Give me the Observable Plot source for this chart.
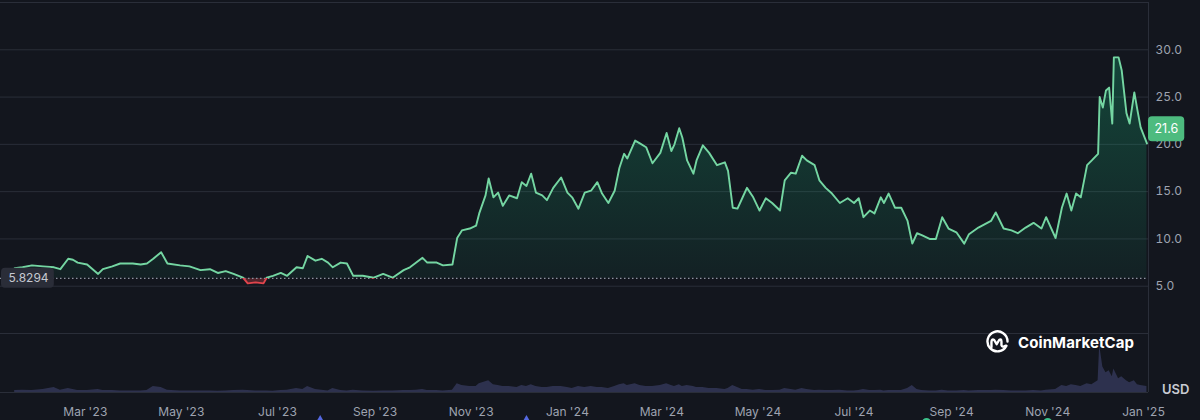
<!DOCTYPE html>
<html><head><meta charset="utf-8">
<script src="https://cdn.jsdelivr.net/npm/d3@7"></script>
<script src="https://cdn.jsdelivr.net/npm/@observablehq/plot@0.6"></script>
<style>
html,body{margin:0;padding:0;background:#13161e;}
#wrap{position:relative;width:1200px;height:420px;overflow:hidden;font-family:Inter,"Noto Sans",sans-serif;}
#wrap > svg{position:absolute;left:0;top:0;}
#logo{position:absolute;left:985px;top:330px;display:flex;align-items:center;gap:8px;}
#logo span{font:700 15px Inter,sans-serif;color:#ffffff;letter-spacing:0.1px;}
#usd{position:absolute;left:1162px;top:381px;font:600 13px Inter,sans-serif;color:#c8cbd3;}
</style></head><body><div id="wrap"></div>
<script>
// ---- data ----
const dates = [
"2023-01-15","2023-01-20","2023-01-26","2023-02-02","2023-02-09","2023-02-13","2023-02-18","2023-02-21","2023-02-24","2023-03-02",
"2023-03-09","2023-03-12","2023-03-18","2023-03-23","2023-03-31","2023-04-05","2023-04-09","2023-04-13","2023-04-18","2023-04-22",
"2023-04-30","2023-05-06","2023-05-13","2023-05-19","2023-05-24","2023-05-29","2023-06-03","2023-06-09","2023-06-12","2023-06-17",
"2023-06-22","2023-06-24","2023-06-28","2023-07-03","2023-07-07","2023-07-13","2023-07-17","2023-07-20","2023-07-25","2023-07-29",
"2023-08-02","2023-08-05","2023-08-10","2023-08-14","2023-08-18","2023-08-24","2023-08-31","2023-09-06","2023-09-12","2023-09-19",
"2023-09-23","2023-09-27","2023-10-01","2023-10-04","2023-10-10","2023-10-14","2023-10-20","2023-10-23","2023-10-26","2023-10-31",
"2023-11-04","2023-11-06","2023-11-10","2023-11-12","2023-11-15","2023-11-18","2023-11-21","2023-11-25","2023-11-30","2023-12-03",
"2023-12-06","2023-12-09","2023-12-12","2023-12-16","2023-12-19","2023-12-23","2023-12-28","2024-01-01","2024-01-04","2024-01-08",
"2024-01-12","2024-01-16","2024-01-20","2024-01-23","2024-01-27","2024-01-31","2024-02-03","2024-02-06","2024-02-08","2024-02-13",
"2024-02-16","2024-02-20","2024-02-24","2024-02-29","2024-03-04","2024-03-07","2024-03-09","2024-03-12","2024-03-14","2024-03-17",
"2024-03-21","2024-03-23","2024-03-27","2024-03-31","2024-04-05","2024-04-10","2024-04-12","2024-04-15","2024-04-18","2024-04-21",
"2024-04-24","2024-04-28","2024-05-02","2024-05-06","2024-05-10","2024-05-15","2024-05-18","2024-05-22","2024-05-25","2024-05-29",
"2024-06-01","2024-06-06","2024-06-09","2024-06-13","2024-06-17","2024-06-22","2024-06-27","2024-07-01","2024-07-04","2024-07-07",
"2024-07-11","2024-07-14","2024-07-18","2024-07-20","2024-07-23","2024-07-27","2024-07-31","2024-08-04","2024-08-07","2024-08-10",
"2024-08-13","2024-08-18","2024-08-22","2024-08-26","2024-08-30","2024-09-04","2024-09-09","2024-09-12","2024-09-18","2024-09-26",
"2024-09-29","2024-10-04","2024-10-09","2024-10-13","2024-10-18","2024-10-23","2024-10-28","2024-10-31","2024-11-06","2024-11-10",
"2024-11-13","2024-11-16","2024-11-19","2024-11-22","2024-11-26","2024-11-29","2024-12-03","2024-12-04","2024-12-06","2024-12-08",
"2024-12-10","2024-12-12","2024-12-13","2024-12-16","2024-12-18","2024-12-21","2024-12-23","2024-12-26","2024-12-28","2024-12-30",
"2025-01-03"];
const prices = [
6.9,7.0,7.2,7.1,7.0,6.8,7.9,7.8,7.5,7.3,
6.3,6.8,7.1,7.4,7.4,7.3,7.4,7.9,8.6,7.4,
7.2,7.1,6.7,6.8,6.4,6.6,6.3,5.9,5.3,5.4,
5.3,5.9,6.1,6.4,6.1,7.0,6.9,8.2,7.7,7.9,
7.5,7.0,7.5,7.4,6.1,6.1,5.9,6.3,5.9,6.7,
7.0,7.5,8.0,7.5,7.5,7.2,7.3,10.1,10.9,11.1,
11.4,12.7,14.6,16.4,14.4,14.9,13.5,14.6,14.3,16.0,
15.6,16.9,14.9,14.6,14.1,15.4,16.5,14.9,14.4,13.2,
14.9,15.1,16.0,14.8,13.8,15.1,17.5,19.0,18.5,20.4,
20.1,19.7,18.0,19.1,21.2,19.3,20.0,21.7,20.7,18.3,
16.9,18.3,19.9,19.1,17.8,18.1,17.2,13.3,13.2,14.3,
15.4,14.4,13.0,14.3,13.8,13.0,16.2,17.0,16.9,18.8,
18.3,17.8,16.2,15.4,14.8,13.8,14.3,13.8,14.3,12.3,
13.0,12.7,14.4,13.8,14.8,13.3,13.3,11.9,9.5,10.6,
10.4,10.0,10.0,12.3,11.1,10.7,9.5,10.5,11.2,11.9,
12.8,11.1,10.9,10.6,11.2,11.7,11.1,12.3,10.1,13.3,
14.8,13.0,14.8,14.4,17.8,18.3,19.0,25.0,23.9,25.7,
26.0,22.2,29.2,29.2,27.8,23.3,22.2,25.5,23.6,21.8,
20.1];
// volume, billions USD (approximate)
const volumes = [
0.1,0.12,0.1,0.15,0.25,0.12,0.2,0.15,0.1,0.1,
0.15,0.1,0.1,0.08,0.08,0.08,0.1,0.3,0.25,0.12,
0.08,0.07,0.08,0.07,0.06,0.07,0.1,0.12,0.1,0.08,
0.08,0.07,0.06,0.1,0.12,0.2,0.15,0.3,0.15,0.12,
0.08,0.2,0.1,0.08,0.12,0.07,0.06,0.08,0.07,0.1,
0.1,0.12,0.15,0.1,0.1,0.08,0.12,0.45,0.35,0.3,
0.3,0.45,0.55,0.6,0.4,0.35,0.3,0.3,0.25,0.35,
0.3,0.4,0.3,0.25,0.25,0.3,0.3,0.25,0.2,0.3,
0.25,0.3,0.25,0.25,0.2,0.3,0.4,0.45,0.35,0.45,
0.35,0.3,0.3,0.35,0.45,0.35,0.3,0.4,0.3,0.35,
0.3,0.25,0.25,0.2,0.2,0.15,0.2,0.35,0.25,0.15,
0.15,0.12,0.15,0.1,0.1,0.12,0.2,0.15,0.12,0.2,
0.15,0.1,0.12,0.1,0.1,0.12,0.08,0.08,0.1,0.15,
0.1,0.1,0.12,0.08,0.1,0.1,0.1,0.2,0.35,0.15,
0.1,0.08,0.08,0.12,0.08,0.08,0.1,0.08,0.1,0.1,
0.12,0.1,0.08,0.08,0.08,0.1,0.08,0.12,0.15,0.35,
0.3,0.4,0.35,0.3,0.45,0.4,0.6,2.4,1.3,1.0,
1.1,0.8,1.2,0.7,0.8,0.6,0.5,0.6,0.4,0.35,
0.3];
const baseline = 5.8294;
const lastPrice = 21.6;
const priceTicks = [5, 10, 15, 20, 25, 30];
const gridLevels = [0, 5, 10, 15, 20, 25, 30, 35];
const monthTicks = ["2023-03-01","2023-05-01","2023-07-01","2023-09-01","2023-11-01","2024-01-01","2024-03-01","2024-05-01","2024-07-01","2024-09-01","2024-11-01","2025-01-01"];
const monthLabels = ["Mar '23","May '23","Jul '23","Sep '23","Nov '23","Jan '24","Mar '24","May '24","Jul '24","Sep '24","Nov '24","Jan '25"];
const blueEvents = ["2023-07-28","2023-12-06"];
const greenEvents = ["2024-08-16","2024-11-01"];
const domainDates = ["2023-01-06","2025-01-04"];

// ---- build ----
const parse = d3.utcParse("%Y-%m-%d");
const rows = dates.map((d, i) => ({date: parse(d), price: prices[i], volume: volumes[i]}));
const xDomain = domainDates.map(parse);
const labelFor = new Map(monthTicks.map((d, i) => [+parse(d), monthLabels[i]]));
const green = "#74d6a2", red = "#e0444c", grid = "#2a2e39", axisText = "#9ea3b0";
const W = 1200, H = 420, MR = 52;

const priceChart = Plot.plot({
  width: W, height: H, marginTop: 2, marginBottom: 87, marginLeft: 0, marginRight: MR,
  style: {background: "transparent", fontFamily: "Inter, sans-serif", fontSize: "12px", color: axisText, overflow: "visible"},
  x: {type: "utc", domain: xDomain, axis: null},
  y: {domain: [0, 35], axis: null},
  marks: [
    Plot.ruleY(gridLevels, {stroke: grid, strokeWidth: 1}),
    Plot.ruleX([xDomain[1]], {stroke: grid}),
    Plot.areaY(rows, {x: "date", y1: () => baseline, y2: "price", fill: "url(#areaGrad)"}),
    Plot.ruleY([baseline], {stroke: "#8e93a0", strokeDasharray: "1.5,2.5", strokeWidth: 1.2}),
    Plot.lineY(rows, {x: "date", y: "price", stroke: "url(#lineGrad)", strokeWidth: 1.9}),
    Plot.axisY(priceTicks, {anchor: "right", label: null, tickSize: 0, tickPadding: 7, tickFormat: d => d.toFixed(1), fill: axisText, fontSize: 12}),
    Plot.text([baseline], {x: () => xDomain[0], y: d => d, text: d => String(d), textAnchor: "start", dx: 8, fill: "#c5c8d0", fontSize: 12}),
    Plot.text([lastPrice], {x: () => xDomain[1], y: d => d, text: d => d.toFixed(1), textAnchor: "start", dx: 6, fill: "#ffffff", fontSize: 12.5})
  ]
});

const volChart = Plot.plot({
  width: W, height: H, marginTop: 333, marginBottom: 28, marginLeft: 0, marginRight: MR,
  style: {background: "transparent", fontFamily: "Inter, sans-serif", fontSize: "12px", color: axisText, overflow: "visible"},
  x: {type: "utc", domain: xDomain, axis: null},
  y: {domain: [0, 3], axis: null},
  marks: [
    Plot.ruleX([xDomain[1]], {stroke: grid}),
    Plot.areaY(rows, {x: "date", y: "volume", fill: "#35385a", fillOpacity: 0.8}),
    Plot.ruleY([0], {stroke: grid}),
    Plot.axisX(monthTicks.map(parse), {anchor: "bottom", label: null, tickSize: 0, tickPadding: 15, tickFormat: d => labelFor.get(+d), fill: axisText, fontSize: 12}),
    Plot.dot(blueEvents.map(parse), {x: d => d, y: () => 0, dy: 30, r: 4.5, fill: "#5468e0", symbol: "diamond"}),
    Plot.dot(greenEvents.map(parse), {x: d => d, y: () => 0, dy: 30, r: 4.5, fill: "#3cc08a"})
  ]
});

const wrap = document.getElementById("wrap");
wrap.appendChild(volChart);
wrap.appendChild(priceChart);

// gradients tied to the y scale
const ys = priceChart.scale("y");
const yb = ys.apply(baseline), yTop = ys.apply(30), yZero = ys.apply(0);
const svg = d3.select(priceChart);
const defs = svg.insert("defs", ":first-child");
const lg = defs.append("linearGradient").attr("id", "lineGrad").attr("gradientUnits", "userSpaceOnUse")
  .attr("x1", 0).attr("x2", 0).attr("y1", 0).attr("y2", H);
lg.append("stop").attr("offset", yb / H).attr("stop-color", green);
lg.append("stop").attr("offset", yb / H).attr("stop-color", red);
lg.append("stop").attr("offset", 1).attr("stop-color", red);
const ag = defs.append("linearGradient").attr("id", "areaGrad").attr("gradientUnits", "userSpaceOnUse")
  .attr("x1", 0).attr("x2", 0).attr("y1", yTop).attr("y2", yZero);
const ob = (yb - yTop) / (yZero - yTop);
ag.append("stop").attr("offset", 0).attr("stop-color", "#16c784").attr("stop-opacity", 0.28);
ag.append("stop").attr("offset", ob).attr("stop-color", "#16c784").attr("stop-opacity", 0.06);
ag.append("stop").attr("offset", ob).attr("stop-color", red).attr("stop-opacity", 0.3);
ag.append("stop").attr("offset", 1).attr("stop-color", red).attr("stop-opacity", 0.3);

// label backgrounds (screen coords == svg coords: svg sits at 0,0 unscaled)
function boxBehind(txt, fill, padX, padY, x0, x1) {
  const root = priceChart.getBoundingClientRect();
  svg.selectAll("text").filter(function() { return this.textContent === txt; }).each(function() {
    const b = this.getBoundingClientRect();
    const bx = b.left - root.left, by = b.top - root.top;
    const left = x0 !== undefined ? x0 : bx - padX;
    const right = x1 !== undefined ? x1 : bx + b.width + padX;
    const g = this.parentNode;
    svg.insert("rect", () => g)
      .attr("x", left).attr("y", by - padY).attr("width", right - left).attr("height", b.height + 2 * padY)
      .attr("rx", 4).attr("fill", fill);
  });
}
boxBehind(String(baseline), "#2a2d38", 5, 2.5, 1);
boxBehind(lastPrice.toFixed(1), "#4dbb7f", 6, 5, W - MR);

// logo + currency
const logo = document.createElement("div");
logo.id = "logo";
logo.innerHTML = '<svg width="25" height="25" viewBox="0 0 24 24" fill="none" stroke="#fff" stroke-width="2.3" stroke-linecap="round" stroke-linejoin="round"><path d="M20.6 15.2A9.6 9.6 0 1 1 21.6 11"/><path d="M6.2 16.2V11.5Q6.4 8 8.8 9.6L11.2 13.6L13.6 9.6Q15.6 8 15.8 11.2V14.6Q16.4 17 19.6 15.2"/></svg><span>CoinMarketCap</span>';
wrap.appendChild(logo);
const usd = document.createElement("div");
usd.id = "usd";
usd.textContent = "USD";
wrap.appendChild(usd);
</script></body></html>
